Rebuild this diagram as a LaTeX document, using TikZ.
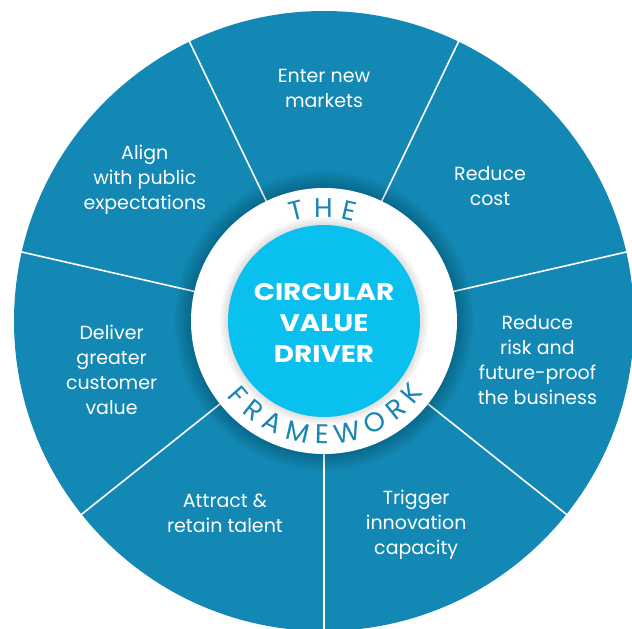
\documentclass[tikz,border=0pt]{standalone}
\usepackage{fontspec}
\setmainfont{Poppins}
\newfontfamily\hubfont{Poppins}[FakeStretch=1.16]
\usetikzlibrary{decorations.text}

\definecolor{wheelblue}{HTML}{1388B4}
\definecolor{hubcyan}{HTML}{0AC0EF}
\definecolor{ringblue}{HTML}{1786B4}

\tikzset{
  spoke/.style={white, line width=1.6pt},
  driver/.style={text=white, align=center, font=\fontsize{19}{25}\selectfont},
  hub/.style={text=white, align=center, font=\hubfont\fontsize{24}{31}\selectfont\bfseries},
  halo/.style={fill=black, fill opacity=0.018, draw=none}
}

\begin{document}
\begin{tikzpicture}
    \useasboundingbox (-324pt,-308pt) rectangle (308pt,321pt);
    \clip (-324pt,-308pt) rectangle (308pt,321pt);

    % wheel and its seven spokes
    \fill[wheelblue] (0,0) circle (310pt);
    \foreach \i in {0,...,6} {
      \pgfmathsetmacro{\ang}{-90+\i*360/7}
      \draw[spoke] (\ang:133pt) -- (\ang:315pt);
    }

    % soft shadow round the hub
    \foreach \k in {1,...,10} \fill[halo] (0,0) circle[radius={133pt+1.7pt*\k}];
    \fill[white] (0,0) circle (133pt);
    \foreach \k in {1,...,6} \fill[halo] (0,0) circle[radius={96pt+1.4pt*\k}];
    \fill[hubcyan] (0,0) circle (96pt);

    \node[hub] (hub) at (0,-2pt) {CIRCULAR\\VALUE\\DRIVER};

    % lettering on the ring
    \path[postaction={decorate}, decoration={text along path, text align=fit to path,
        text color=ringblue, text={|\fontsize{27}{27}\selectfont|THE}}]
      (108:104pt) arc[start angle=108, end angle=73, radius=104pt];
    \path[postaction={decorate}, decoration={text along path, text align=fit to path,
        text color=ringblue, text={|\fontsize{27}{27}\selectfont|FRAMEWORK}}]
      (218:123pt) arc[start angle=218, end angle=324, radius=123pt];

    % the seven drivers
    \foreach \i/\a/\r/\txt in {0/90/233/{Enter new\\markets},
        1/39.1/214/{Reduce\\cost},
        2/-10.4/217/{Reduce\\risk and\\future-proof\\the business},
        3/-65.7/224/{Trigger\\innovation\\capacity},
        4/-117.3/216/{Attract \&\\retain talent},
        5/-167/218/{Deliver\\greater\\customer\\value},
        6/141.8/228/{Align\\with public\\expectations}} {
      \node[driver] (drv\i) at (\a:\r pt) {\txt};
    }
\end{tikzpicture}
\end{document}
